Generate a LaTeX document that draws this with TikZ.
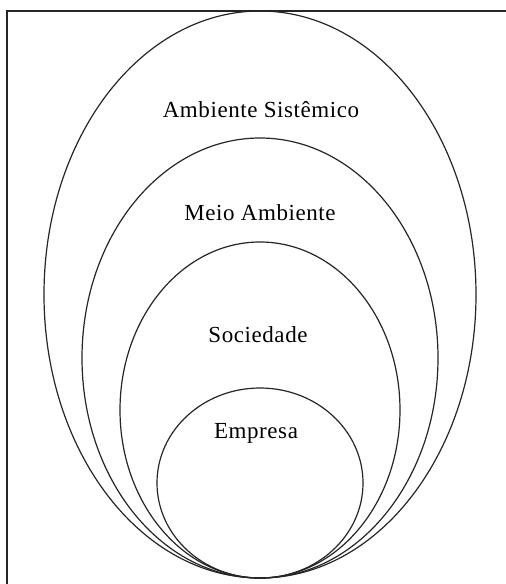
\documentclass[tikz,border=0pt]{standalone}
\usepackage{fontspec}
\setmainfont{Liberation Serif}[LetterSpace=2.5]
\begin{document}
\begin{tikzpicture}[x=1pt,y=-1pt,
  ring/.style={draw=black!85,line width=1.2pt},
  frameline/.style={draw=black!85,line width=1.3pt},
  lbl/.style={anchor=base,inner sep=0pt,text=black,font=\fontsize{23}{27}\selectfont}]
  \useasboundingbox (0,0) rectangle (506,584);
  \fill[white] (0,0) rectangle (506,584);
  % frame
  \draw[frameline] (506,11) -- (7,11) -- (7,584);
  % nested rings, all touching at the bottom
  \draw[ring] (260,294.5) ellipse [x radius=216, y radius=283.5];
  \draw[ring] (260,358) ellipse [x radius=178, y radius=220];
  \draw[ring] (260,410) ellipse [x radius=140, y radius=168];
  \draw[ring] (260,483) ellipse [x radius=103, y radius=95];
  % labels
  \node[lbl] (sist) at (261,117) {Ambiente Sistêmico};
  \node[lbl] (meio) at (260,220) {Meio Ambiente};
  \node[lbl] (soc)  at (258,342) {Sociedade};
  \node[lbl] (emp)  at (256,438) {Empresa};
\end{tikzpicture}
\end{document}
